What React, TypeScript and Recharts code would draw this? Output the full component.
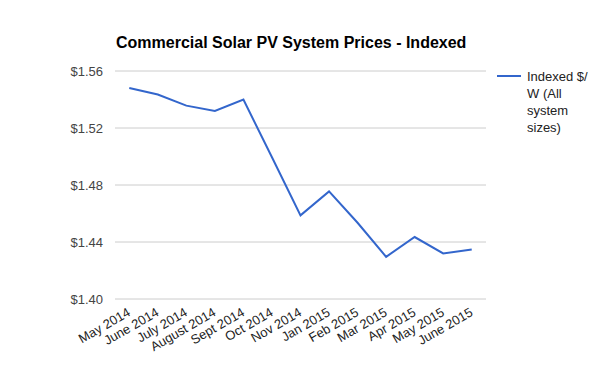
import React from "react";
import { LineChart, Line, XAxis, YAxis, CartesianGrid } from "recharts";

const months = [
  "May 2014",
  "June 2014",
  "July 2014",
  "August 2014",
  "Sept 2014",
  "Oct 2014",
  "Nov 2014",
  "Jan 2015",
  "Feb 2015",
  "Mar 2015",
  "Apr 2015",
  "May 2015",
  "June 2015",
];

const indexedPrice = [
  1.548, 1.5435, 1.5357, 1.532, 1.5399, 1.4995, 1.4587, 1.4755, 1.4535, 1.4296, 1.4435, 1.432, 1.4348,
];

const yTicks = [1.4, 1.44, 1.48, 1.52, 1.56];

const seriesName = "Indexed $/W (All system sizes)";
const legendLines = ["Indexed $/", "W (All", "system", "sizes)"];

const chartTitle = "Commercial Solar PV System Prices - Indexed";

const FONT = "Arial, 'Liberation Sans', sans-serif";
const LINE_COLOR = "#3366cc";

const data = months.map((m, i) => ({ month: m, price: indexedPrice[i] }));

function MonthTick(props: any) {
  const { x, y, payload } = props;
  return (
    <g transform={`translate(${x + 2},${y + 16})`}>
      <text
        x={0}
        y={0}
        textAnchor="end"
        transform="rotate(-30)"
        fontSize={13}
        fontFamily={FONT}
        fill="#222"
      >
        {payload.value}
      </text>
    </g>
  );
}

function LegendBox() {
  return (
    <svg width={100} height={80} style={{ position: "absolute", left: 497, top: 68, overflow: "visible" }}>
      <line x1={0} y1={8} x2={24} y2={8} stroke={LINE_COLOR} strokeWidth={2} />
      {legendLines.map((t, i) => (
        <text key={t} x={30} y={13 + i * 17} fontSize={13} fontFamily={FONT} fill="#222">
          {t}
        </text>
      ))}
    </svg>
  );
}

export default function App() {
  return (
    <div
      style={{
        position: "absolute",
        left: 0,
        top: 0,
        width: 600,
        height: 371,
        background: "#fff",
        fontFamily: FONT,
      }}
    >
      <div
        style={{
          position: "absolute",
          left: 116,
          top: 35,
          fontSize: 16,
          fontWeight: "bold",
          color: "#000",
          whiteSpace: "nowrap",
          lineHeight: "16px",
        }}
      >
        {chartTitle}
      </div>
      <LineChart
        width={600}
        height={371}
        data={data}
        margin={{ top: 71, right: 114, bottom: 0, left: 0 }}
      >
        <CartesianGrid vertical={false} stroke="#cccccc" />
        <XAxis
          dataKey="month"
          scale="band"
          interval={0}
          height={72}
          axisLine={false}
          tickLine={false}
          tickSize={0}
          tickMargin={0}
          tick={<MonthTick />}
        />
        <YAxis
          domain={[1.4, 1.56]}
          ticks={yTicks}
          width={115}
          axisLine={false}
          tickLine={false}
          tickSize={0}
          tickMargin={12}
          tickFormatter={(v: number) => `$${v.toFixed(2)}`}
          tick={{ fontSize: 13, fill: "#444", fontFamily: FONT }}
        />
        <Line
          type="linear"
          dataKey="price"
          name={seriesName}
          stroke={LINE_COLOR}
          strokeWidth={2}
          dot={false}
          isAnimationActive={false}
        />
      </LineChart>
      <LegendBox />
    </div>
  );
}
